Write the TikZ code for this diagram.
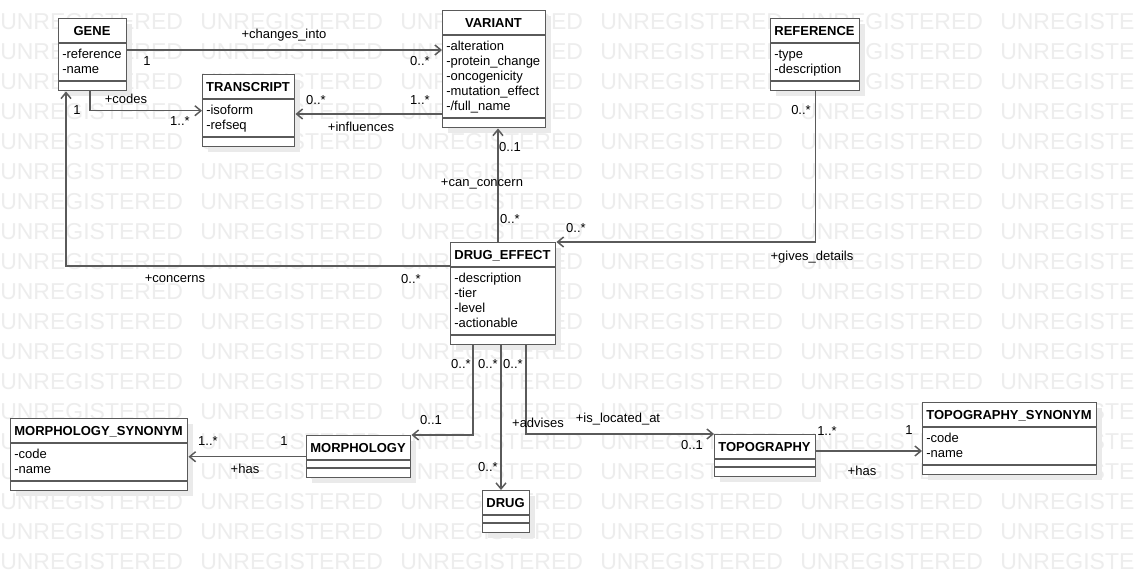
\documentclass[tikz,border=0pt]{standalone}
\usepackage{fontspec}
\setmainfont{Liberation Sans}
\usepackage{tikz}
\usetikzlibrary{calc, arrows.meta}

\definecolor{linec}{RGB}{90,90,90}
\definecolor{wmc}{RGB}{237,237,237}
\definecolor{shadowc}{RGB}{234,234,234}

% クラス: 名前, x, y, 幅, タイトル, 属性数, 属性
\newcommand{\umlclass}[7]{%
  \fill[shadowc] (#2+6,#3+6) rectangle ++(#4,42+15*#6); %影
  \node[cls, minimum width={#4*0.75pt}, minimum height={(42+15*#6)*0.75pt}, anchor=north west] (#1) at (#2,#3) {};
  \node[ttl] (#1-t) at (#2+#4/2,#3+12.7) {#5};
  \draw[cls] (#2,#3+25) -- ++(#4,0);
  \draw[cls] (#2,#3+33+15*#6) -- ++(#4,0);
  \ifnum#6>0 \foreach \a [count=\i] in {#7} \node[attr] (#1-a\i) at (#2+4,#3+20.5+15*\i) {\a};\fi
}

\begin{document}
\begin{tikzpicture}[x=0.75pt, y=-0.75pt, font=\fontsize{9.75}{11}\selectfont,
  cls/.style={draw=linec, fill=white, line width=1.1pt, inner sep=0pt},
  txt/.style={inner sep=0pt, text height=7pt, text depth=0pt},
  ttl/.style={txt, font=\fontsize{9.75}{11}\selectfont\bfseries},
  attr/.style={txt, anchor=west},
  assoc/.style={draw=linec, line width=1.1pt, -{Straight Barb[length=4.5pt,width=7.5pt]}},
  lbl/.style={txt},
  wm/.style={text=wmc, font=\fontsize{17.25}{20}\selectfont, anchor=base west, inner sep=0pt}]
  \useasboundingbox (0,0) rectangle (1136,574);
  \fill[white] (0,0) rectangle (1136,574);
  \foreach \r in {0,...,18} \foreach \c in {0,...,5}
    \node[wm] (wm-\r-\c) at (200*\c,29.5+30*\r) {UNREGISTERED}; %透かし

  \umlclass{gene}{58}{18}{68}{GENE}{2}{-reference,-name}
  \umlclass{variant}{442}{10}{103}{VARIANT}{5}{-alteration,-protein\_change,-oncogenicity,-mutation\_effect,-/full\_name}
  \umlclass{transcript}{202}{74}{92}{TRANSCRIPT}{2}{-isoform,-refseq}
  \umlclass{reference}{770}{18}{89}{REFERENCE}{2}{-type,-description}
  \umlclass{drugeffect}{450}{242}{105}{DRUG\_EFFECT}{4}{-description,-tier,-level,-actionable}
  \umlclass{msyn}{10}{418}{177}{MORPHOLOGY\_SYNONYM}{2}{-code,-name}
  \umlclass{morphology}{306}{435}{104}{MORPHOLOGY}{0}{}
  \umlclass{drug}{482}{490}{47}{DRUG}{0}{}
  \umlclass{topography}{714}{434}{101}{TOPOGRAPHY}{0}{}
  \umlclass{tsyn}{922}{402}{174}{TOPOGRAPHY\_SYNONYM}{2}{-code,-name}

  \draw[assoc] (gene.east |- 0,50) -- (variant.west |- 0,50); %changes_into
  \draw[assoc] (gene.south -| 90,0) |- (transcript.west); %codes
  \draw[assoc] (variant.west |- 0,114) -- (transcript.east |- 0,114); %influences
  \draw[assoc] (drugeffect.north -| 498,0) -- (variant.south -| 498,0); %can_concern
  \draw[assoc] (reference.south) |- (drugeffect.north east); %gives_details
  \draw[assoc] (drugeffect.west |- 0,266) -| (gene.south -| 66,0); %concerns
  \draw[assoc] (drugeffect.south -| 473,0) |- (morphology.north east);
  \draw[assoc] (drugeffect.south -| 501,0) -- (drug.north -| 501,0); %advises
  \draw[assoc] (drugeffect.south -| 526,0) |- (topography.north west); %is_located_at
  \draw[assoc] (morphology.west) -- (msyn.east |- morphology.west); %has
  \draw[assoc] (topography.east |- 0,451) -- (tsyn.west |- 0,451); %has

  \node[lbl] (l1) at (284,34) {+changes\_into};
  \node[lbl] (m1a) at (147,61) {1};
  \node[lbl] (m1b) at (420,61) {0..*};
  \node[lbl] (l2) at (126,99) {+codes};
  \node[lbl] (m2a) at (77,110) {1};
  \node[lbl] (m2b) at (180,121) {1..*};
  \node[lbl] (m3a) at (316,100) {0..*};
  \node[lbl] (m3b) at (420,100) {1..*};
  \node[lbl] (l3) at (361,127) {+influences};
  \node[lbl] (m4a) at (510,147) {0..1};
  \node[lbl] (l4) at (482,182) {+can\_concern};
  \node[lbl] (m4b) at (510,219) {0..*};
  \node[lbl] (m5a) at (801,110) {0..*};
  \node[lbl] (m5b) at (576,228) {0..*};
  \node[lbl] (l5) at (812,256) {+gives\_details};
  \node[lbl] (l6) at (175,278) {+concerns};
  \node[lbl] (m6) at (411,279) {0..*};
  \node[lbl] (m7a) at (461,364) {0..*};
  \node[lbl] (m8a) at (488,364) {0..*};
  \node[lbl] (m9a) at (513,364) {0..*};
  \node[lbl] (m7b) at (431,420) {0..1};
  \node[lbl] (m8b) at (488,467) {0..*};
  \node[lbl] (l8) at (538,423) {+advises};
  \node[lbl] (l9) at (618,418) {+is\_located\_at};
  \node[lbl] (m9b) at (692,445) {0..1};
  \node[lbl] (m10a) at (208,441) {1..*};
  \node[lbl] (m10b) at (284,441) {1};
  \node[lbl] (l10) at (245,469) {+has};
  \node[lbl] (m11a) at (827,431) {1..*};
  \node[lbl] (m11b) at (909,430) {1};
  \node[lbl] (l11) at (862,471) {+has};
\end{tikzpicture}
\end{document}
